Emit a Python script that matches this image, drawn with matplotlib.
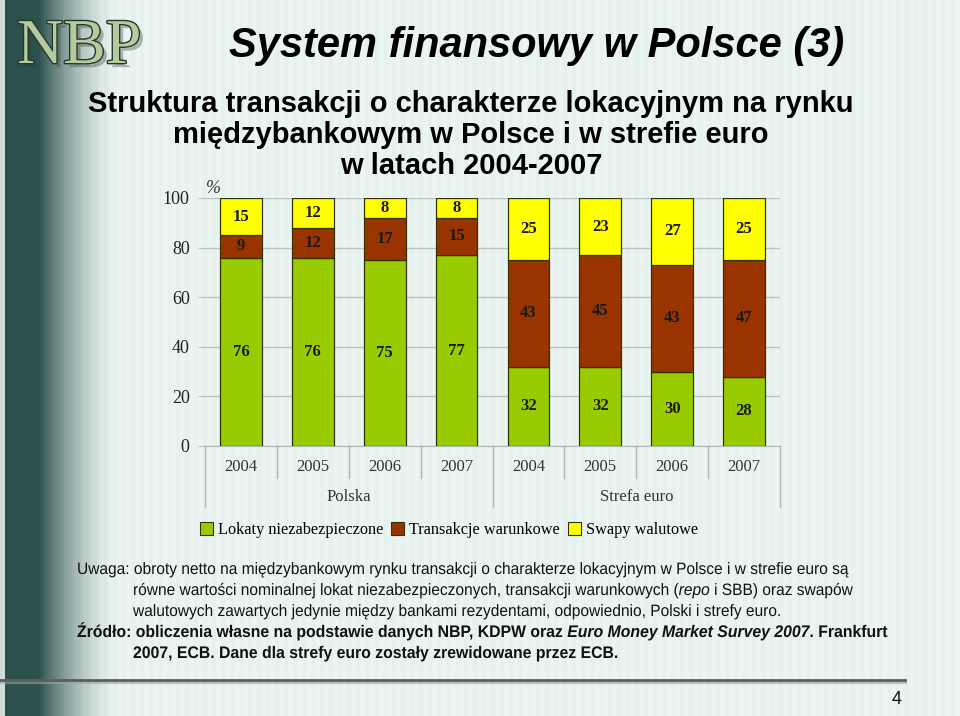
import numpy as np
import matplotlib
matplotlib.use("Agg")
import matplotlib.pyplot as plt
import matplotlib.patheffects as pe
import matplotlib.transforms as mtransforms
from matplotlib.patches import Rectangle, PathPatch
from matplotlib.textpath import TextPath
from matplotlib.font_manager import FontProperties

years = ['2004', '2005', '2006', '2007', '2004', '2005', '2006', '2007']
groups = ['Polska', 'Strefa euro']
lokaty = [76, 76, 75, 77, 32, 32, 30, 28]
warunkowe = [9, 12, 17, 15, 43, 45, 43, 47]
swapy = [15, 12, 8, 8, 25, 23, 27, 25]
series_names = ['Lokaty niezabezpieczone', 'Transakcje warunkowe', 'Swapy walutowe']
colors = ['#99cc00', '#993300', '#ffff00']

W, H = 960, 716
fig = plt.figure(figsize=(W / 100, H / 100), dpi=100)

# slide background: dark teal band on the left fading into light mint with faint stripes
xs = np.arange(W)
d = np.where(xs < 5, 0.15, 1.0)
t = np.clip((xs - 38) / 80.0, 0, 1)
d = np.where(xs >= 38, (1 - t) ** 1.6, d)
light = np.array([233, 244, 240]) + (3 * np.sin(2 * np.pi * xs / 9.0))[:, None]
dark = np.array([44, 80, 76])
row = light * (1 - d[:, None]) + dark * d[:, None]
img = np.repeat(row[None, :, :], H, axis=0) / 255.0
bg = fig.add_axes([0, 0, 1, 1], zorder=-10)
bg.imshow(np.clip(img, 0, 1), aspect='auto', extent=[0, W, H, 0])
bg.set_xlim(0, W)
bg.set_ylim(H, 0)
bg.axis('off')

def fx(px):
    return px / W

def fy(py):
    return 1 - py / H

# logo
logo = fig.text(fx(17), fy(63), 'NBP', family='Liberation Serif', fontsize=46,
                color='#b4cb9e', va='baseline', ha='left')
logo.set_path_effects([pe.withSimplePatchShadow(offset=(3, -3), alpha=0.35),
                       pe.Stroke(linewidth=2, foreground='#26382c'), pe.Normal()])

fig.text(fx(537), fy(46), 'System finansowy w Polsce (3)', family='Liberation Sans',
         fontsize=30, weight='bold', style='italic', ha='center', va='center')
for i, line in enumerate(['Struktura transakcji o charakterze lokacyjnym na rynku',
                          'międzybankowym w Polsce i w strefie euro',
                          'w latach 2004-2007']):
    fig.text(fx(471), fy(104 + 31 * i), line, family='Liberation Sans', fontsize=21,
             weight='bold', ha='center', va='center')

# chart
ax = fig.add_axes([fx(205), fy(446), fx(780) - fx(205), (446 - 198) / H])
ax.set_facecolor('none')
x = np.arange(len(years))
bw = 0.58
bottom = np.zeros(len(years))
for vals, c in zip([lokaty, warunkowe, swapy], colors):
    ax.bar(x, vals, bw, bottom=bottom, color=c, edgecolor='#333300',
           linewidth=0.9, zorder=3)
    for xi, b, v in zip(x, bottom, vals):
        ax.text(xi, b + v / 2, str(v), ha='center', va='center', family='Liberation Serif',
                fontsize=12, weight='bold', color='#1a1a1a', zorder=4)
    bottom = bottom + np.array(vals)

ax.set_xlim(-0.5, 7.5)
ax.set_ylim(0, 100)
ax.set_yticks([0, 20, 40, 60, 80, 100])
ax.yaxis.grid(True, color='#b9c4c0', linewidth=1, zorder=0)
ax.tick_params(axis='y', length=5, color='#b9c4c0', labelsize=13, pad=6)
for lab in ax.get_yticklabels():
    lab.set_family('Liberation Serif')
    lab.set_color('#222222')
ax.set_xticks([])
for s in ['top', 'right', 'left']:
    ax.spines[s].set_visible(False)
ax.spines['bottom'].set_color('#b0b8b4')
ax.text(-0.48, 104, '%', family='Liberation Serif', fontsize=13, style='italic',
        color='#333333', ha='left', va='center', clip_on=False)

# category labels and separators below the axis
for xi, yr in zip(x, years):
    ax.text(xi, -8.5, yr, ha='center', va='center', family='Liberation Serif',
            fontsize=12, color='#333333', clip_on=False)
ax.text(1.5, -20.5, groups[0], ha='center', va='center', family='Liberation Serif',
        fontsize=12, color='#333333', clip_on=False)
ax.text(5.5, -20.5, groups[1], ha='center', va='center', family='Liberation Serif',
        fontsize=12, color='#333333', clip_on=False)
for b in np.arange(-0.5, 8, 1.0):
    low = -24.5 if b in (-0.5, 3.5, 7.5) else -13
    ax.plot([b, b], [0, low], color='#b0b8b4', linewidth=1, clip_on=False)

# legend
handles = [Rectangle((0, 0), 1, 1, facecolor=c, edgecolor='#333300', linewidth=0.8)
           for c in colors]
fig.legend(handles, series_names, loc='center', bbox_to_anchor=(fx(449), fy(530)),
           ncol=3, frameon=False, prop={'family': 'Liberation Serif', 'size': 11.7},
           handlelength=0.8, handleheight=0.8, handletextpad=0.3, columnspacing=0.5)

# notes: narrow sans look, made by squeezing Liberation Sans outlines horizontally
def advance(s, fp, size):
    ref = TextPath((0, 0), 'l', size=size, prop=fp).get_extents().x1
    return TextPath((0, 0), s + 'l', size=size, prop=fp).get_extents().x1 - ref

def narrow_line(px, base, parts, size=16.5, sx=0.94):
    cur = px
    for s, w, st in parts:
        fp = FontProperties(family='Liberation Sans', weight=w, style=st)
        tp = TextPath((0, 0), s, size=size, prop=fp)
        tr = mtransforms.Affine2D().scale(sx, 1).translate(cur, H - base)
        fig.add_artist(PathPatch(tp, facecolor='#111111', edgecolor='none', transform=tr))
        cur += advance(s, fp, size) * sx

narrow_line(77, 574, [('Uwaga: obroty netto na międzybankowym rynku transakcji o charakterze '
                       'lokacyjnym w Polsce i w strefie euro są', 'normal', 'normal')])
narrow_line(133, 595, [('równe wartości nominalnej lokat niezabezpieczonych, transakcji '
                        'warunkowych (', 'normal', 'normal'),
                       ('repo', 'normal', 'italic'),
                       (' i SBB) oraz swapów', 'normal', 'normal')])
narrow_line(133, 616, [('walutowych zawartych jedynie między bankami rezydentami, odpowiednio, '
                        'Polski i strefy euro.', 'normal', 'normal')])
narrow_line(77, 637, [('Źródło: obliczenia własne na podstawie danych NBP, KDPW oraz ',
                       'bold', 'normal'),
                      ('Euro Money Market Survey 2007', 'bold', 'italic'),
                      ('. Frankfurt', 'bold', 'normal')], size=16.8)
narrow_line(133, 658, [('2007, ECB. Dane dla strefy euro zostały zrewidowane przez ECB.',
                        'bold', 'normal')], size=16.8)

# footer rule and page number
bg.plot([0, 905], [682, 682], color='#9aa5a2', linewidth=3, alpha=0.6)
bg.plot([0, 905], [680, 680], color='#5a5f5e', linewidth=2)
narrow_line(892, 704, [('4', 'normal', 'normal')], size=19)

fig.savefig('out.png', dpi=100)
